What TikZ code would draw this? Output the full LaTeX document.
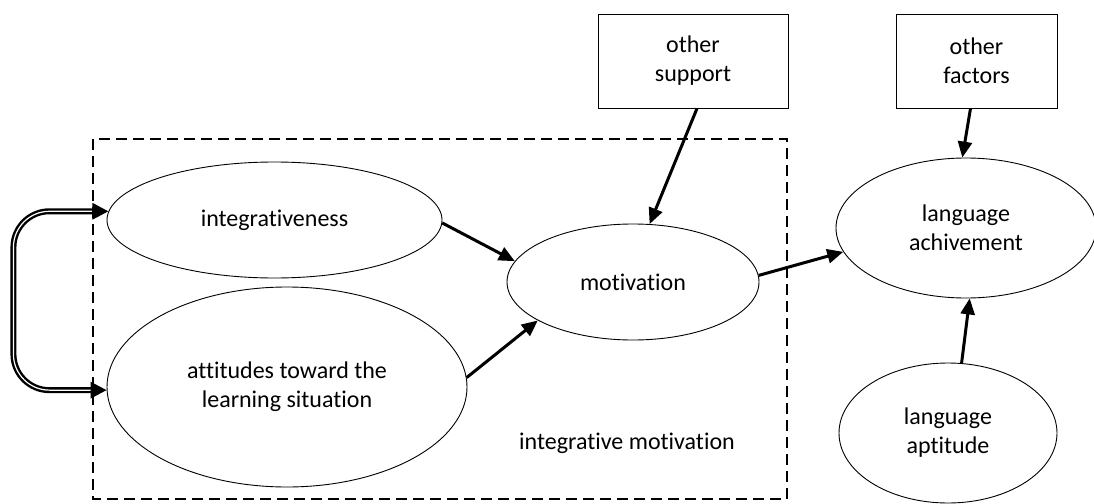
\documentclass[tikz,border=0pt]{standalone}
\usepackage{fontspec}
\setmainfont{Carlito}[Ligatures=NoCommon]
\usetikzlibrary{shapes.geometric,arrows.meta,calc}
\begin{document}
\begin{tikzpicture}[x=1pt,y=-1pt,
  every node/.style={font=\fontsize{24}{29}\selectfont, align=center},
  ell/.style={draw, ellipse, line width=0.9pt, inner sep=0pt},
  bx/.style={draw, rectangle, line width=0.9pt, inner sep=0pt},
  arr/.style={line width=3pt, -{Triangle[length=16pt,width=14pt]}},
  dbl/.style={double=white, double distance=1.2pt, line width=2.4pt,
     shorten <=12pt, shorten >=12pt},
  tipend/.style={line width=3pt, -{Triangle[length=16pt,width=16pt]}},
  frame/.style={line width=2.8pt, dash pattern=on 11pt off 6pt}]
\useasboundingbox (0,0) rectangle (1094,503);
\draw[frame] (93,139) rectangle (787,499);
\node[ell, minimum width=335, minimum height=116] (integ) at (274.5,220) {integrativeness};
\node[ell, minimum width=360, minimum height=200] (att) at (287,387) {attitudes toward the\\learning situation};
\node[ell, minimum width=252, minimum height=116] (mot) at (633,282) {motivation};
\node[ell, minimum width=260, minimum height=140] (ach) at (966,228) {language\\achivement};
\node[ell, minimum width=218, minimum height=140] (apt) at (948,433) {language\\aptitude};
\node[bx, minimum width=190, minimum height=94] (sup) at (693,61) {other\\support};
\node[bx, minimum width=161, minimum height=94] (fac) at (976.5,61) {other\\factors};
\node (lab) at (627,443) {integrative motivation};
\draw[arr] (integ.-1) -- (mot.170);
\draw[arr] (att.3) -- (mot.-158);
\draw[arr] ($(sup.south)+(4,0)$) -- (mot.74);
\draw[arr] ($(fac.south)+(-6,0)$) -- (ach.93);
\draw[arr] (mot.3) -- (ach.191);
\draw[arr] (apt.79) -- (ach.-87);
\draw[dbl, rounded corners=36pt] (integ.177.6) -- ++(-95,0) |- (att.181);
\draw[tipend] ($(integ.177.6)+(-16,0)$) -- (integ.177.6);
\draw[tipend] ($(att.181)+(-16,0)$) -- (att.181);
\end{tikzpicture}
\end{document}
